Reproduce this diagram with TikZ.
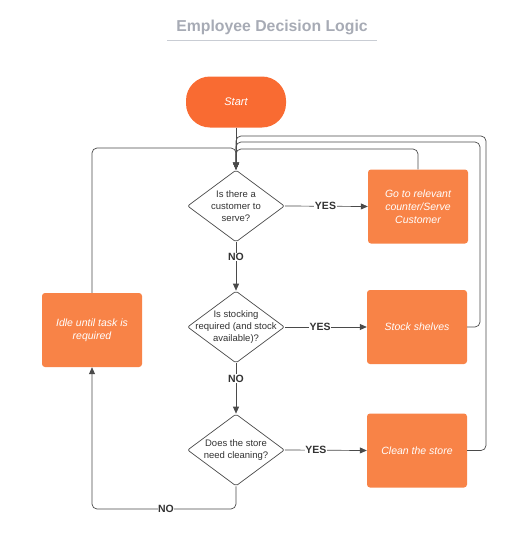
\documentclass[tikz,border=0pt]{standalone}
\usepackage{fontspec}
\setmainfont{Liberation Sans}
\usetikzlibrary{shapes.geometric,arrows.meta}
\definecolor{startc}{HTML}{F96B32}
\definecolor{boxc}{HTML}{F88347}
\definecolor{titlec}{HTML}{A7ABB5}
\definecolor{rulec}{HTML}{C9CDD4}
\definecolor{linec}{HTML}{4A4A4A}
\definecolor{txtc}{HTML}{333333}
\tikzset{
  procbox/.style={rectangle, fill=boxc, rounded corners=3pt, minimum width=100pt, minimum height=74pt,
    text=white, font=\fontsize{10.5}{13}\selectfont\itshape, align=center, inner sep=2pt},
  dia/.style={diamond, draw=linec, line width=0.7pt, fill=white, minimum width=97pt, minimum height=72pt,
    inner sep=0pt, rounded corners=2pt},
  dtext/.style={text=txtc, font=\fontsize{9.5}{12}\selectfont, align=center, inner sep=0pt},
  lab/.style={fill=white, text=txtc, font=\fontsize{10.5}{12}\selectfont\bfseries, inner sep=0.5pt},
  conn/.style={draw=linec, line width=0.7pt, -{Triangle[length=7pt,width=6pt]}},
  loopline/.style={conn, rounded corners=5pt},
}
\begin{document}
\begin{tikzpicture}[x=1pt,y=-1pt]
\useasboundingbox (0,0) rectangle (528,538);
% title
\node[text=titlec, font=\fontsize{15.8}{18}\selectfont\bfseries] (title) at (272,27) {Employee Decision Logic};
\coordinate (ulL) at (167,40);
\coordinate (ulR) at (377,40);
\draw[rulec, line width=1pt] (ulL) -- (ulR);
% nodes
\node[rectangle, fill=startc, rounded corners=24pt, minimum width=100pt, minimum height=51pt,
  text=white, font=\fontsize{11}{13}\selectfont\itshape] (start) at (236,102) {Start};
\node[dia] (d1) at (236,206) {};
\node[dtext] (t1) at (236,206) {Is there a\\customer to\\serve?};
\node[dia] (d2) at (236,327) {};
\node[dtext] (t2) at (236,327) {Is stocking\\required (and stock\\available)?};
\node[dia] (d3) at (236,450) {};
\node[dtext] (t3) at (236,450) {Does the store\\need cleaning?};
\node[procbox] (b1) at (418,206.5) {Go to relevant\\counter/Serve\\Customer};
\node[procbox] (b2) at (417,327) {Stock shelves};
\node[procbox] (b3) at (417,450.5) {Clean the store};
\node[procbox] (idle) at (92,330) {Idle until task is\\required};
% loop-back coordinates
\coordinate (j0) at (236,148);
\coordinate (j1) at (236,149);
\coordinate (k2) at (480,142);
\coordinate (j2) at (236,142);
\coordinate (k3) at (486,136);
\coordinate (j3) at (236,136);
\coordinate (bl) at (92,509);
% loops back to first decision
\draw[loopline] (b3.east) -| (k3) -- (j3) -- (d1.north);
\draw[loopline] (b2.east) -| (k2) -- (j2) -- (d1.north);
\draw[loopline] (b1.north) |- (j1) -- (d1.north);
\draw[loopline] (idle.north) |- (j0) -- (d1.north);
\draw[conn] (start.south) -- (d1.north);
% decisions
\draw[conn] (d1.east) -- node[lab, pos=0.49] (y1) {YES} (b1.west);
\draw[conn] (d2.east) -- node[lab, pos=0.43] (y2) {YES} (b2.west);
\draw[conn] (d3.east) -- node[lab, pos=0.38] (y3) {YES} (b3.west);
\draw[conn] (d1.south) -- node[lab, pos=0.3] (n1) {NO} (d2.north);
\draw[conn] (d2.south) -- node[lab, pos=0.3] (n2) {NO} (d3.north);
\draw[loopline] (d3.south) |- (bl) -- (idle.south);
\node[lab] (n3) at (166,509) {NO};
\end{tikzpicture}
\end{document}
